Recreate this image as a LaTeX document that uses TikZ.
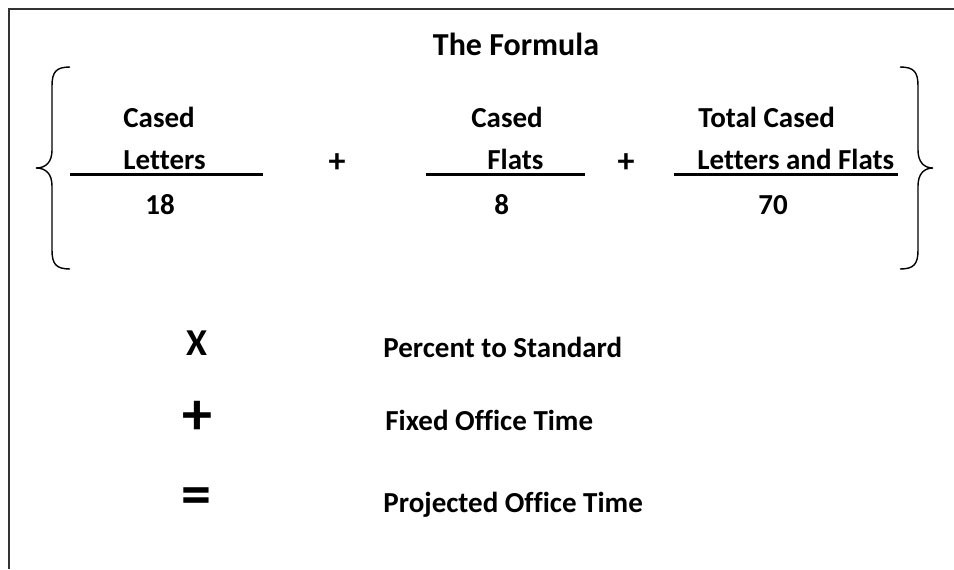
\documentclass[tikz,border=0pt]{standalone}
\usepackage{fontspec}
\setmainfont{Carlito}[Ligatures=NoCommon]
\usetikzlibrary{positioning}

\begin{document}
\begin{tikzpicture}[x=0.5pt,y=-0.5pt,
  every node/.style={inner sep=0pt,anchor=base west,
    font=\fontsize{14.5}{17}\selectfont\bfseries},
  sym/.style={anchor=center,font=\fontsize{17}{19}\selectfont\bfseries},
  bigsym/.style={anchor=center,font=\fontsize{30}{30}\selectfont\bfseries},
  bar/.style={line width=1.5pt},
  brace/.style={line width=0.7pt}]
\useasboundingbox (0,0) rectangle (954,569);
\draw[line width=1pt,black!80] (9,569) -- (9,9) -- (954,9);
\node (title) [anchor=base,font=\fontsize{16}{19}\selectfont\bfseries] at (516,55) {The Formula};
% left and right braces
\draw[brace] (70,67) .. controls (56,67) and (52,72) .. (52,86) -- (52,150)
  .. controls (52,162) and (46,168) .. (36,168) .. controls (46,168) and (52,174) .. (52,186)
  -- (52,250) .. controls (52,264) and (56,269) .. (70,269);
\draw[brace] (900,67) .. controls (914,67) and (918,72) .. (918,86) -- (918,150)
  .. controls (918,162) and (924,168) .. (933,168) .. controls (924,168) and (918,174) .. (918,186)
  -- (918,250) .. controls (918,264) and (914,269) .. (900,269);
% fractions
\node (CL) at (123,127) {Cased};
\node (L) at (123,169) {Letters};
\node (n18) at (145,214) {18};
\draw[bar] (70,174) -- (263,174);
\node (p1) [sym] at (337,163) {+};
\node (CF) at (471,127) {Cased};
\node (F) at (487,169) {Flats};
\node (n8) at (494,214) {8};
\draw[bar] (426,174) -- (585,174);
\node (p2) [sym] at (626,163) {+};
\node (TC) at (698,127) {Total Cased};
\node (LF) at (697,169) {Letters and Flats};
\node (n70) at (758,214) {70};
\draw[bar] (674,174) -- (898,174);
% lower part
\node (times) [anchor=base,font=\fontsize{19}{21}\selectfont\bfseries] at (197,355) {X};
\node (pct) at (383,357) {Percent to Standard};
\node (plus) [bigsym] at (197,418) {+};
\node (fixed) at (385,430) {Fixed Office Time};
\node (eq) [bigsym] at (196,501) {=};
\node (proj) at (383,512) {Projected Office Time};
\end{tikzpicture}
\end{document}
